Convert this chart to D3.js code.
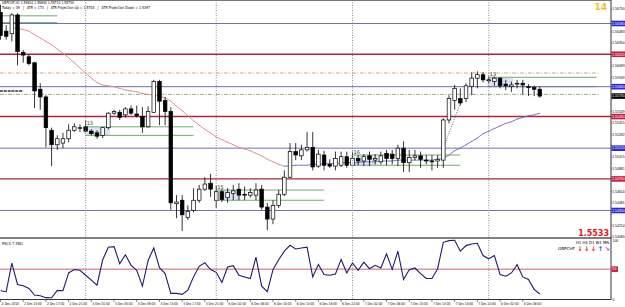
<!DOCTYPE html>
<html>
<head>
<meta charset="utf-8">
<script src="https://cdn.jsdelivr.net/npm/d3@7"></script>
<style>
    body { margin: 0; background: #fff; }
    svg { display: block; font-family: "DejaVu Sans", sans-serif; }
    .axis-text { font-family: "Liberation Sans", sans-serif; }
</style>
</head>
<body>
<svg id="chart" width="625" height="307"></svg>
<script>
// ---- Dados (GBPCHF H1, 2 Dec 09:00 -> 8 Dec 09:00)
const open = [1.5671,1.5649,1.5646,1.5668,1.5624,1.5619,1.5612,1.5581,1.5572,1.5533,
    1.5516,1.5518,1.5523,1.5533,1.5535,1.5537,1.5532,1.5530,1.5527,1.5536,
    1.5553,1.5554,1.5551,1.5558,1.5552,1.5549,1.5537,1.5554,1.5590,1.5568,
    1.5555,1.5447,1.5451,1.5431,1.5439,1.5451,1.5464,1.5471,1.5451,1.5461,
    1.5454,1.5459,1.5464,1.5458,1.5457,1.5457,1.5464,1.5443,1.5429,1.5445,
    1.5458,1.5478,1.5508,1.5503,1.5510,1.5513,1.5491,1.5504,1.5493,1.5491,
    1.5492,1.5502,1.5492,1.5500,1.5497,1.5503,1.5498,1.5496,1.5506,1.5505,
    1.5500,1.5512,1.5495,1.5501,1.5503,1.5498,1.5497,1.5497,1.5498,1.5545,
    1.5568,1.5570,1.5570,1.5584,1.5594,1.5598,1.5592,1.5590,1.5594,1.5587,
    1.5584,1.5587,1.5588,1.5584,1.5583,1.5581];
const high = [1.5680,1.5656,1.5670,1.5670,1.5627,1.5622,1.5613,1.5588,1.5574,1.5536,
    1.5527,1.5530,1.5540,1.5541,1.5540,1.5545,1.5534,1.5533,1.5537,1.5554,
    1.5557,1.5557,1.5560,1.5562,1.5562,1.5560,1.5561,1.5592,1.5592,1.5572,
    1.5560,1.5457,1.5457,1.5445,1.5465,1.5469,1.5478,1.5482,1.5468,1.5464,
    1.5465,1.5469,1.5471,1.5467,1.5465,1.5471,1.5469,1.5448,1.5451,1.5463,
    1.5486,1.5518,1.5518,1.5516,1.5531,1.5531,1.5510,1.5509,1.5499,1.5508,
    1.5508,1.5508,1.5508,1.5504,1.5505,1.5508,1.5505,1.5508,1.5510,1.5510,
    1.5516,1.5520,1.5510,1.5510,1.5508,1.5504,1.5504,1.5504,1.5547,1.5574,
    1.5586,1.5582,1.5588,1.5601,1.5602,1.5601,1.5596,1.5596,1.5595,1.5592,
    1.5590,1.5592,1.5592,1.5587,1.5585,1.5584];
const low = [1.5639,1.5639,1.5637,1.5609,1.5612,1.5609,1.5559,1.5557,1.5513,1.5491,
    1.5510,1.5512,1.5519,1.5531,1.5531,1.5531,1.5527,1.5523,1.5524,1.5534,
    1.5551,1.5545,1.5548,1.5551,1.5548,1.5530,1.5536,1.5553,1.5539,1.5539,
    1.5440,1.5430,1.5415,1.5428,1.5437,1.5448,1.5462,1.5455,1.5442,1.5449,
    1.5448,1.5451,1.5451,1.5451,1.5454,1.5451,1.5440,1.5416,1.5423,1.5442,
    1.5456,1.5477,1.5498,1.5498,1.5508,1.5486,1.5489,1.5486,1.5489,1.5486,
    1.5490,1.5489,1.5491,1.5492,1.5491,1.5491,1.5493,1.5493,1.5492,1.5493,
    1.5491,1.5484,1.5484,1.5498,1.5489,1.5493,1.5486,1.5489,1.5489,1.5541,
    1.5557,1.5562,1.5566,1.5574,1.5582,1.5589,1.5588,1.5585,1.5582,1.5580,
    1.5578,1.5582,1.5575,1.5573,1.5573,1.5571];
const close = [1.5644,1.5643,1.5668,1.5625,1.5621,1.5611,1.5579,1.5572,1.5536,1.5516,
    1.5523,1.5523,1.5533,1.5537,1.5536,1.5532,1.5529,1.5526,1.5536,1.5553,
    1.5555,1.5548,1.5558,1.5553,1.5550,1.5537,1.5555,1.5590,1.5567,1.5555,
    1.5448,1.5449,1.5434,1.5438,1.5451,1.5464,1.5470,1.5464,1.5461,1.5452,
    1.5460,1.5462,1.5457,1.5457,1.5460,1.5463,1.5443,1.5429,1.5445,1.5458,
    1.5478,1.5508,1.5504,1.5510,1.5513,1.5490,1.5505,1.5492,1.5491,1.5500,
    1.5502,1.5492,1.5500,1.5497,1.5502,1.5499,1.5500,1.5503,1.5500,1.5500,
    1.5512,1.5495,1.5501,1.5503,1.5499,1.5497,1.5496,1.5499,1.5545,1.5570,
    1.5582,1.5565,1.5585,1.5594,1.5598,1.5592,1.5591,1.5594,1.5585,1.5585,
    1.5586,1.5588,1.5586,1.5583,1.5581,1.5573];
const maValues = [null,null,1.5653,1.5652,1.5651,1.5649,1.5645,1.5641,1.5637,1.5633,
    1.5628,1.5623,1.5618,1.5612,1.5606,1.5600,1.5594,1.5589,1.5586,1.5585,
    1.5584,1.5582,1.5580,1.5579,1.5578,1.5576,1.5575,1.5574,1.5573,1.5571,
    1.5567,1.5561,1.5556,1.5550,1.5544,1.5539,1.5534,1.5530,1.5525,1.5522,
    1.5519,1.5516,1.5513,1.5511,1.5509,1.5506,1.5503,1.5499,1.5496,1.5493,
    1.5491,1.5491,1.5492,1.5492,1.5492,1.5493,1.5493,1.5494,1.5494,1.5494,
    1.5495,1.5495,1.5495,1.5495,1.5496,1.5496,1.5496,1.5497,1.5497,1.5497,
    1.5498,1.5498,1.5498,1.5498,1.5498,1.5498,1.5498,1.5499,1.5500,1.5504,
    1.5509,1.5512,1.5516,1.5520,1.5524,1.5529,1.5532,1.5535,1.5538,1.5541,
    1.5543,1.5546,1.5548,1.5550,1.5551,1.5553];
const rsiValues = [13.0,11.3,60.5,23.7,21.5,16.9,5.6,4.5,1.1,1.0,
    13.6,13.0,43.5,49.2,48.0,39.5,31.1,22.6,66.1,87.6,
    88.7,59.3,74.6,56.5,48.0,20.9,65.0,86.4,52.5,42.4,
    8.5,8.5,6.8,14.1,36.7,54.8,61.0,49.2,44.6,27.1,
    53.7,55.9,39.5,36.7,33.9,70.6,20.9,11.3,49.2,66.1,
    80.8,91.0,84.7,86.4,87.6,36.7,58.2,40.7,39.5,41.8,
    66.7,43.5,60.5,48.0,62.1,50.8,56.5,52.0,76.3,49.7,
    80.8,32.2,49.2,52.0,42.4,33.9,33.9,50.8,96.0,98.9,
    99.5,80.8,90.4,93.2,94.4,73.4,67.8,73.4,40.7,37.9,
    43.5,57.6,36.7,32.2,15.3,7.4];

// níveis (pivôs) e linhas auxiliares
const blueLevels = [1.5658, 1.5584, 1.5512, 1.5439];
const redLevels  = [1.5622, 1.5549, 1.5476];
const dashLevels = [1.5600, 1.5575];
const lastPrice  = 1.5573;

// caixas de sessão
const sessionStart = [-9, 15, 38, 62, 86];
const sessionHigh  = [1.5667, 1.5537, 1.5463, 1.5504, 1.5595];
const sessionLow   = [1.5659, 1.5527, 1.5451, 1.5492, 1.5584];
const sessionLabel = ['', '13', '15', '16', '13'];

// projeção ATR
const projBars  = [78, 81];
const projPrice = [1.5512, 1.5565];

// eixos
const priceTicks = ['1.56750','1.56617','1.56483','1.56350','1.56216','1.56083','1.55949',
    '1.55816','1.55682','1.55549','1.55415','1.55282','1.55148','1.55015','1.54881',
    '1.54748','1.54614','1.54481','1.54347','1.54214','1.54080'];
const daySeparators = [15, 38, 62, 86];
const timeBars   = [0,4,8,12,16,20,24,28,32,36,40,44,48,52,56,60,64,68,72,76,80,84,88,92];
const timeLabels = ['2 Dec 2010','2 Dec 13:00','2 Dec 17:00','2 Dec 21:00','3 Dec 01:00',
    '3 Dec 05:00','3 Dec 09:00','3 Dec 13:00','3 Dec 17:00','3 Dec 21:00','6 Dec 02:00',
    '6 Dec 06:00','6 Dec 10:00','6 Dec 14:00','6 Dec 18:00','6 Dec 22:00','7 Dec 02:00',
    '7 Dec 06:00','7 Dec 10:00','7 Dec 14:00','7 Dec 18:00','7 Dec 22:00','8 Dec 02:00',
    '8 Dec 06:00'];
const tfLabels = ['H1', 'H4', 'D1', 'W1', 'MN'];
const tfArrows = ['↓', '↓', '↓', '↑', '↘'];
const tfColors = ['#e02828', '#e02828', '#e02828', '#2a4fe0', '#e020d8'];

const svg = d3.select('#chart');
const plotRight = 611;

// texto pequeno estilo MT4 (fonte minúscula, largura fixa)
function tiny(sel, size, len) {
    sel.attr('font-size', size);
    if (len) sel.attr('textLength', len).attr('lengthAdjust', 'spacingAndGlyphs');
    return sel;
}

// ---- Escalas
const x = d3.scaleLinear().domain([0, 95]).range([0.5, 0.5 + 95 * 5.677]);
const y = d3.scaleLinear().domain([1.54074, 1.56855]).range([237.5, 0]);
const yRsi = d3.scaleLinear().domain([0, 100]).range([298.3, 240]);

svg.append('clipPath').attr('id', 'mainClip')
    .append('rect').attr('x', 0).attr('y', 0).attr('width', plotRight).attr('height', 237);

const main = svg.append('g').attr('clip-path', 'url(#mainClip)');

// ---- Separadores de dia
svg.selectAll('.daysep')
    .data(daySeparators)
    .join('line')
    .attr('class', 'daysep')
    .attr('x1', d => x(d)).attr('x2', d => x(d))
    .attr('y1', 0).attr('y2', 299)
    .attr('stroke', '#8a8a8a')
    .attr('stroke-dasharray', '1,1.5');

// ---- Sessões
const idx = d3.range(sessionStart.length);
main.selectAll('.shade')
    .data(idx.filter(i => sessionLabel[i] !== ''))
    .join('rect')
    .attr('x', i => x(sessionStart[i]) - 1.5)
    .attr('width', i => x(sessionStart[i] + 4) - x(sessionStart[i]) + 3)
    .attr('y', i => y(sessionHigh[i]))
    .attr('height', i => y(sessionLow[i]) - y(sessionHigh[i]))
    .attr('fill', '#dde2f6');

['high', 'low'].forEach(k => {
    main.selectAll('.sess-' + k)
        .data(idx)
        .join('line')
        .attr('x1', i => x(sessionStart[i]))
        .attr('x2', i => x(sessionStart[i] + 19))
        .attr('y1', i => y(k === 'high' ? sessionHigh[i] : sessionLow[i]))
        .attr('y2', i => y(k === 'high' ? sessionHigh[i] : sessionLow[i]))
        .attr('stroke', '#6fae6f')
        .attr('stroke-width', 1);
});

main.selectAll('.sess-label')
    .data(idx.filter(i => sessionLabel[i] !== ''))
    .join('text')
    .attr('x', i => x(sessionStart[i]) + 1)
    .attr('y', i => y(sessionHigh[i]) - 1.5)
    .attr('font-size', 5)
    .attr('fill', '#333')
    .text(i => sessionLabel[i]);

// ---- Níveis horizontais
main.selectAll('.blue-level')
    .data(blueLevels)
    .join('line')
    .attr('x1', 0).attr('x2', plotRight)
    .attr('y1', d => y(d)).attr('y2', d => y(d))
    .attr('stroke', '#6f6fb4')
    .attr('stroke-width', 1);

main.selectAll('.red-level')
    .data(redLevels)
    .join('line')
    .attr('x1', 0).attr('x2', plotRight)
    .attr('y1', d => y(d)).attr('y2', d => y(d))
    .attr('stroke', '#a8283f')
    .attr('stroke-width', 1.4);

main.selectAll('.dash-level')
    .data(dashLevels)
    .join('line')
    .attr('x1', 0).attr('x2', 600)
    .attr('y1', d => y(d)).attr('y2', d => y(d))
    .attr('stroke', (d, i) => i === 0 ? '#c9a27a' : '#8f9c84')
    .attr('stroke-width', 0.9)
    .attr('stroke-dasharray', '4,1.5,1,1.5');

main.append('line')
    .attr('x1', 0).attr('x2', x(4))
    .attr('y1', y(1.5579)).attr('y2', y(1.5579))
    .attr('stroke', '#333')
    .attr('stroke-width', 1.4)
    .attr('stroke-dasharray', '3,0.8');

// ---- Média móvel (salmão descendo, azul subindo)
const maPts = maValues.map((v, i) => [i, v]).filter(d => d[1] !== null);
main.selectAll('.ma')
    .data(d3.pairs(maPts))
    .join('line')
    .attr('x1', d => x(d[0][0])).attr('y1', d => y(d[0][1]))
    .attr('x2', d => x(d[1][0])).attr('y2', d => y(d[1][1]))
    .attr('stroke', d => d[1][1] >= d[0][1] ? '#6c6cc2' : '#da8a82')
    .attr('stroke-width', 0.9)
    .attr('stroke-linecap', 'round');

main.append('line')
    .attr('x1', x(projBars[0])).attr('y1', y(projPrice[0]))
    .attr('x2', x(projBars[1])).attr('y2', y(projPrice[1]))
    .attr('stroke', '#5a64b8')
    .attr('stroke-dasharray', '1,1.5');

// ---- Candles
const bars = d3.range(open.length);
main.selectAll('.wick')
    .data(bars)
    .join('line')
    .attr('x1', i => x(i)).attr('x2', i => x(i))
    .attr('y1', i => y(high[i])).attr('y2', i => y(low[i]))
    .attr('stroke', '#000')
    .attr('stroke-width', 0.8);

main.selectAll('.body')
    .data(bars)
    .join('rect')
    .attr('x', i => x(i) - 1.8)
    .attr('width', 3.6)
    .attr('y', i => y(Math.max(open[i], close[i])))
    .attr('height', i => Math.max(0.7, Math.abs(y(open[i]) - y(close[i]))))
    .attr('fill', i => close[i] >= open[i] ? '#fff' : '#000')
    .attr('stroke', '#000')
    .attr('stroke-width', 0.7);

// ---- Textos do painel principal
tiny(svg.append('text').attr('x', 2).attr('y', 4.3).attr('fill', '#000'), 4, 72)
    .text(`GBPCHF,H1  ${open[95].toFixed(5)} ${high[95].toFixed(5)} ${low[95].toFixed(5)} ${close[95].toFixed(5)}`);
tiny(svg.append('text').attr('x', 2).attr('y', 8.6).attr('fill', '#000'), 4, 148)
    .attr('xml:space', 'preserve')
    .text('Today = 39   |   ATR = 173   |   ATR Projection Up = 1.5704   |   ATR Projection Down = 1.5397');

svg.append('text').attr('x', 607).attr('y', 10).attr('text-anchor', 'end')
    .attr('font-size', 9).attr('font-weight', 'bold').attr('fill', '#ecc21e').text('14');
svg.append('text').attr('x', 609).attr('y', 235.5).attr('text-anchor', 'end')
    .attr('font-size', 8).attr('font-weight', 'bold').attr('fill', '#e01818').text('1.5533');

// ---- Eixo de preços
const boxes = [
    ...blueLevels.map(v => ({ v, c: '#2a2ad0' })),
    ...redLevels.map(v => ({ v, c: '#c8203e' })),
    { v: lastPrice, c: '#000' }
];
// o MT4 cobre os rótulos que ficam sob as caixas
const freeTicks = priceTicks.filter(t => boxes.every(b => Math.abs(y(+t) - y(b.v)) > 5));

const axisG = svg.append('g').attr('class', 'axis-text');
axisG.selectAll('.ptick')
    .data(freeTicks)
    .join('text')
    .attr('x', 612.3)
    .attr('y', d => y(+d) + 1.3)
    .attr('font-size', 3.4)
    .attr('fill', '#000')
    .text(d => d);

axisG.selectAll('.pmark')
    .data(priceTicks)
    .join('line')
    .attr('x1', plotRight).attr('x2', plotRight + 1.2)
    .attr('y1', d => y(+d)).attr('y2', d => y(+d))
    .attr('stroke', '#333').attr('stroke-width', 0.5);

const boxG = axisG.selectAll('.box')
    .data(boxes)
    .join('g')
    .attr('transform', d => `translate(611.5, ${y(d.v)})`);
boxG.append('rect').attr('x', 0).attr('y', -2.8).attr('width', 13.5).attr('height', 5.6).attr('fill', d => d.c);
boxG.append('text').attr('x', 0.8).attr('y', 1.3).attr('font-size', 3.4).attr('fill', '#fff')
    .text(d => d.v.toFixed(5));

// ---- Bordas
svg.append('line').attr('x1', 0).attr('x2', plotRight).attr('y1', 0.5).attr('y2', 0.5).attr('stroke', '#777');
svg.append('line').attr('x1', 0).attr('x2', plotRight).attr('y1', 238).attr('y2', 238)
    .attr('stroke', '#555').attr('stroke-width', 1.6);
svg.append('line').attr('x1', 0).attr('x2', plotRight).attr('y1', 299.5).attr('y2', 299.5).attr('stroke', '#333');
svg.append('line').attr('x1', plotRight).attr('x2', plotRight).attr('y1', 0).attr('y2', 300).attr('stroke', '#333');

// ---- RSI
svg.append('line').attr('x1', 0).attr('x2', plotRight)
    .attr('y1', yRsi(50)).attr('y2', yRsi(50))
    .attr('stroke', '#c4505e').attr('stroke-width', 0.9);

svg.append('path')
    .datum(rsiValues)
    .attr('d', d3.line().x((d, i) => x(i)).y(d => yRsi(d)))
    .attr('fill', 'none')
    .attr('stroke', '#1d1d6a')
    .attr('stroke-width', 1.1);

tiny(svg.append('text').attr('x', 2).attr('y', 244.5), 4, 21).text('RSI(3) 7.3581');

const rsiAxis = svg.append('g').attr('class', 'axis-text');
rsiAxis.selectAll('.rsi-tick')
    .data([100, 0])
    .join('text')
    .attr('x', 612.5).attr('y', d => yRsi(d) + 2.2)
    .attr('font-size', 3.4)
    .text(d => d);
rsiAxis.append('rect').attr('x', 611.5).attr('y', yRsi(50) - 2.8).attr('width', 6.5).attr('height', 5.6).attr('fill', '#c8203e');
rsiAxis.append('text').attr('x', 612.6).attr('y', yRsi(50) + 1.3).attr('font-size', 3.4).attr('fill', '#fff').text('50');

// painel de tendência
tiny(svg.append('text').attr('x', 576).attr('y', 244.3), 4, 33)
    .attr('xml:space', 'preserve').text(tfLabels.join(' '));
tiny(svg.append('text').attr('x', 558).attr('y', 250.3), 4, 17).text('GBPCHF');
svg.selectAll('.tf-arrow')
    .data(tfArrows)
    .join('text')
    .attr('x', (d, i) => 580 + i * 6.8)
    .attr('y', 251)
    .attr('text-anchor', 'middle')
    .attr('font-size', 6.5)
    .attr('font-weight', 'bold')
    .attr('fill', (d, i) => tfColors[i])
    .text(d => d);

// ---- Eixo de tempo
svg.selectAll('.time-tick')
    .data(timeBars)
    .join('line')
    .attr('x1', d => x(d)).attr('x2', d => x(d))
    .attr('y1', 299.5).attr('y2', 302)
    .attr('stroke', '#333').attr('stroke-width', 0.6);

tiny(svg.selectAll('.time-label')
    .data(timeBars)
    .join('text')
    .attr('x', d => x(d) + 1)
    .attr('y', 305)
    .attr('fill', '#000'), 3.8, 17.5)
    .text((d, i) => timeLabels[i]);
</script>
</body>
</html>
